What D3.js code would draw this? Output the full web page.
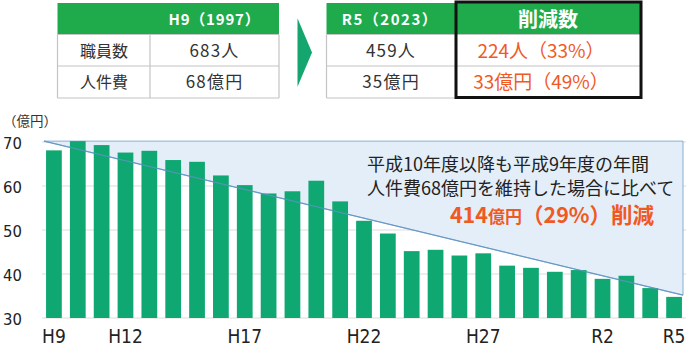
<!DOCTYPE html>
<html><head><meta charset="utf-8">
<script src="https://cdn.jsdelivr.net/npm/d3@7"></script>
<style>
html,body{margin:0;padding:0;background:#fff;}
svg{display:block;}
</style></head>
<body>
<svg id="chart" width="700" height="356"></svg>
<script>
// ---------- data ----------
const categories = ["H9","H10","H11","H12","H13","H14","H15","H16","H17","H18","H19","H20","H21","H22","H23","H24","H25","H26","H27","H28","H29","H30","R1","R2","R3","R4","R5"];
const personnelCost = [68.1,70.2,69.3,67.6,68.0,65.9,65.5,62.4,60.2,58.3,58.8,61.2,56.5,52.1,49.2,45.2,45.5,44.2,44.7,41.9,41.4,40.5,40.9,38.9,39.6,36.8,34.8];
const shownTicks = ["H9","H12","H17","H22","H27","R2","R5"];
const yTicks = [30,40,50,60,70];
const guideValues = [70.2, 35.2]; // 仮定線 start / end
const unitLabel = "（億円）";

const tableRowLabels = ["職員数","人件費"];
const h9Header = "H9（1997）";
const r5Header = "R5（2023）";
const cutHeader = "削減数";
const h9Values = ["683人","68億円"];
const r5Values = ["459人","35億円"];
const cutValues = ["224人（33%）","33億円（49%）"];

const noteLines = ["平成10年度以降も平成9年度の年間","人件費68億円を維持した場合に比べて"];
const notePieces = [["414","big"],["億円","small"],["（29%）","big"],["削減","big"]];

// ---------- styles ----------
const JP = "'Noto Sans CJK JP','Noto Sans',sans-serif";
const NARROW = "'Liberation Sans Narrow','DejaVu Sans Condensed','Liberation Sans',sans-serif";
const GREEN_HDR = "#1fab4c";
const BAR = "#0fa872";
const ORANGE = "#f0591f";

const svg = d3.select("#chart");

// ---------- chart ----------
const x = d3.scaleBand().domain(categories).range([42, 686]).paddingInner(0.34).paddingOuter(0.17);
const y = d3.scaleLinear().domain([30, 70]).range([318, 142]);

// gridlines
svg.append("g").selectAll("line").data(yTicks).join("line")
  .attr("x1", 42).attr("x2", 686)
  .attr("y1", d => y(d)).attr("y2", d => y(d))
  .attr("stroke", "#dcdcdc").attr("stroke-width", 1);

// guide triangle (fill behind bars)
const gx0 = x.range()[0] + 2, gx1 = x.range()[1] - 3;
const tri = [[gx0, y(guideValues[0])],[gx1, y(guideValues[0])],[gx1, y(guideValues[1])]];
svg.append("path").attr("d", d3.line()(tri) + "Z")
  .attr("fill", "#e4eef8").attr("stroke", "#86afd4").attr("stroke-width", 1);

// bars
svg.append("g").selectAll("rect").data(categories).join("rect")
  .attr("x", d => x(d)).attr("width", x.bandwidth())
  .attr("y", (d,i) => y(personnelCost[i]))
  .attr("height", (d,i) => y(30) - y(personnelCost[i]))
  .attr("fill", BAR);

// diagonal line on top
svg.append("line")
  .attr("x1", tri[0][0]).attr("y1", tri[0][1]).attr("x2", tri[2][0]).attr("y2", tri[2][1])
  .attr("stroke", "#5f93c2").attr("stroke-width", 1.2).attr("opacity", 0.8);

// y axis
const yAxis = d3.axisLeft(y).tickValues(yTicks).tickSize(0).tickPadding(0);
const yg = svg.append("g").attr("transform", "translate(22,0)").call(yAxis);
yg.select(".domain").remove();
yg.selectAll("text").attr("font-family", NARROW).attr("font-size", 16.5).attr("fill", "#222").attr("dy", "0.42em");

svg.append("text").attr("x", 3).attr("y", 126).text(unitLabel)
  .attr("font-family", JP).attr("font-size", 13.5).attr("fill", "#333");

// x axis
const xAxis = d3.axisBottom(x).tickValues(shownTicks).tickSize(0).tickPadding(0);
const xg = svg.append("g").attr("transform", "translate(0,343)").call(xAxis);
xg.select(".domain").remove();
xg.selectAll("text").attr("font-family", NARROW).attr("font-size", 19).attr("fill", "#222").attr("dy", 0);

// note text
svg.append("g").selectAll("text").data(noteLines).join("text")
  .attr("x", 367).attr("y", (d,i) => 171 + i*24)
  .text(d => d)
  .attr("font-family", JP).attr("font-size", 18).attr("fill", "#222");

const note = svg.append("text").attr("x", 552).attr("y", 223).attr("text-anchor", "middle")
  .attr("font-family", JP).attr("font-weight", "bold").attr("fill", ORANGE);
note.selectAll("tspan").data(notePieces).join("tspan")
  .text(d => d[0])
  .attr("font-size", d => d[1] === "big" ? 21.5 : 17);

// ---------- tables ----------
const rowY = [3, 34.5, 66, 98];
function tableGrid(x0, cols) {
  const g = svg.append("g");
  const x1 = cols[cols.length - 1];
  g.append("rect").attr("x", x0).attr("y", rowY[0]).attr("width", x1 - x0).attr("height", rowY[1] - rowY[0]).attr("fill", GREEN_HDR);
  g.selectAll("line.h").data(rowY.slice(1)).join("line")
    .attr("x1", x0).attr("x2", x1).attr("y1", d => d).attr("y2", d => d)
    .attr("stroke", "#c4c4c4").attr("stroke-width", 1.2);
  g.selectAll("line.v").data([x0, ...cols]).join("line")
    .attr("x1", d => d).attr("x2", d => d).attr("y1", rowY[1]).attr("y2", rowY[3])
    .attr("stroke", "#c4c4c4").attr("stroke-width", 1.2);
  return g;
}

// left table
tableGrid(57.5, [150, 279]);
svg.append("text").attr("x", 214.5).attr("y", 25).attr("text-anchor", "middle").text(h9Header)
  .attr("font-family", JP).attr("font-weight", "bold").attr("font-size", 15).attr("letter-spacing", 0.8).attr("fill", "#fff");
svg.append("g").selectAll("text").data(tableRowLabels).join("text")
  .attr("x", 104).attr("y", (d,i) => rowY[i+1] + 22).attr("text-anchor", "middle").text(d => d)
  .attr("font-family", JP).attr("font-size", 16).attr("fill", "#333");
svg.append("g").selectAll("text").data(h9Values).join("text")
  .attr("x", 214.5).attr("y", (d,i) => rowY[i+1] + 22).attr("text-anchor", "middle").text(d => d)
  .attr("font-family", JP).attr("font-size", 17).attr("letter-spacing", 1.2).attr("fill", "#333");

// arrow
svg.append("path").attr("d", d3.line()([[297.5,18.3],[312,52.5],[297.5,86.7]]) + "Z").attr("fill", "#14a66e");

// right table
tableGrid(326.5, [455.5, 641]);
svg.append("text").attr("x", 390).attr("y", 25).attr("text-anchor", "middle").text(r5Header)
  .attr("font-family", JP).attr("font-weight", "bold").attr("font-size", 15).attr("letter-spacing", 1.5).attr("fill", "#fff");
svg.append("text").attr("x", 548).attr("y", 27).attr("text-anchor", "middle").text(cutHeader)
  .attr("font-family", JP).attr("font-weight", "bold").attr("font-size", 20).attr("fill", "#fff");
svg.append("g").selectAll("text").data(r5Values).join("text")
  .attr("x", 391).attr("y", (d,i) => rowY[i+1] + 22).attr("text-anchor", "middle").text(d => d)
  .attr("font-family", JP).attr("font-size", 17).attr("letter-spacing", 1.2).attr("fill", "#333");
svg.append("g").selectAll("text").data(cutValues).join("text")
  .attr("x", 541).attr("y", (d,i) => rowY[i+1] + 23).attr("text-anchor", "middle").text(d => d)
  .attr("font-family", JP).attr("font-size", 19).attr("fill", ORANGE);
// black highlight border
svg.append("rect").attr("x", 456).attr("y", 2).attr("width", 185).attr("height", 95.5)
  .attr("fill", "none").attr("stroke", "#111").attr("stroke-width", 3);
</script>
</body></html>
